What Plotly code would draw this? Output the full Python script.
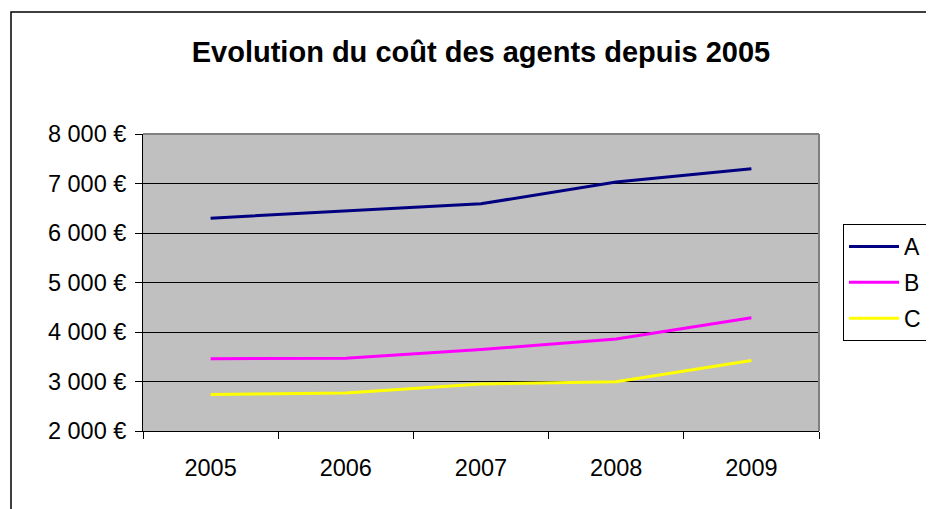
import plotly.graph_objects as go

years = ["2005", "2006", "2007", "2008", "2009"]
serie_a = [6300, 6440, 6590, 7030, 7300]
serie_b = [3460, 3470, 3645, 3857, 4287]
serie_c = [2737, 2770, 2950, 2994, 3424]
series_names = ["A", "B", "C"]
series_colors = ["#000080", "#FF00FF", "#FFFF00"]
y_tick_vals = [2000, 3000, 4000, 5000, 6000, 7000, 8000]
y_tick_text = ["2 000 €", "3 000 €", "4 000 €", "5 000 €", "6 000 €", "7 000 €", "8 000 €"]
title_text = "Evolution du coût des agents depuis 2005"

FONT = "Liberation Sans, Arial, sans-serif"

fig = go.Figure()
for name, vals, col in zip(series_names, [serie_a, serie_b, serie_c], series_colors):
    fig.add_trace(go.Scatter(x=years, y=vals, name=name, mode="lines",
                             line=dict(color=col, width=3),
                             legendgroup=name))

# page body has an 8px margin; compensate so pixel positions match
OFF = 8
L, T = 143 - OFF, 134 - OFF
pw, ph = 676, 297
W, H = 934 - OFF, 509 - OFF
R, B = W - L - pw, H - T - ph

fig.update_layout(
    width=W, height=H,
    margin=dict(l=L, r=R, t=T, b=B, autoexpand=False),
    paper_bgcolor="white",
    plot_bgcolor="#C0C0C0",
    font=dict(family=FONT, size=23.5, color="black"),
    title=dict(text="<b>" + title_text + "</b>", x=0.5, xref="paper",
               y=1 - (52 - OFF) / H, yref="container", yanchor="middle", xanchor="center",
               font=dict(family=FONT, size=29, color="black")),
    showlegend=True,
    legend=dict(x=(843 - OFF - L) / pw, xanchor="left", y=1 - (224 - OFF - T) / ph, yanchor="top",
                bordercolor="black", borderwidth=1, bgcolor="white",
                font=dict(family=FONT, size=23), itemwidth=50,
                tracegroupgap=3, traceorder="grouped"),
    xaxis=dict(type="category", tickson="boundaries", ticks="outside", ticklen=7,
               tickcolor="black", showline=True, linecolor="black", linewidth=1,
               showgrid=False, zeroline=False, range=[-0.5, 4.5],
               ticklabelstandoff=16),
    yaxis=dict(range=[2000, 8000], tickvals=y_tick_vals, ticktext=y_tick_text,
               ticks="outside", ticklen=7, tickcolor="black",
               showline=True, linecolor="black", linewidth=1,
               showgrid=True, gridcolor="black", gridwidth=1, zeroline=False,
               ticklabelstandoff=4),
    shapes=[
        dict(type="line", xref="paper", yref="paper", x0=0, x1=1, y0=1, y1=1,
             line=dict(color="#808080", width=2)),
        dict(type="line", xref="paper", yref="paper", x0=1, x1=1, y0=0, y1=1,
             line=dict(color="#808080", width=2)),
        dict(type="rect", xref="paper", yref="paper",
             x0=(11 - OFF - L) / pw, x1=(W + 20 - L) / pw,
             y0=-(H + 20 - (T + ph)) / ph, y1=1 + (T - (12 - OFF)) / ph,
             line=dict(color="black", width=1.5), layer="below"),
    ],
)

fig.write_html("out.html")
